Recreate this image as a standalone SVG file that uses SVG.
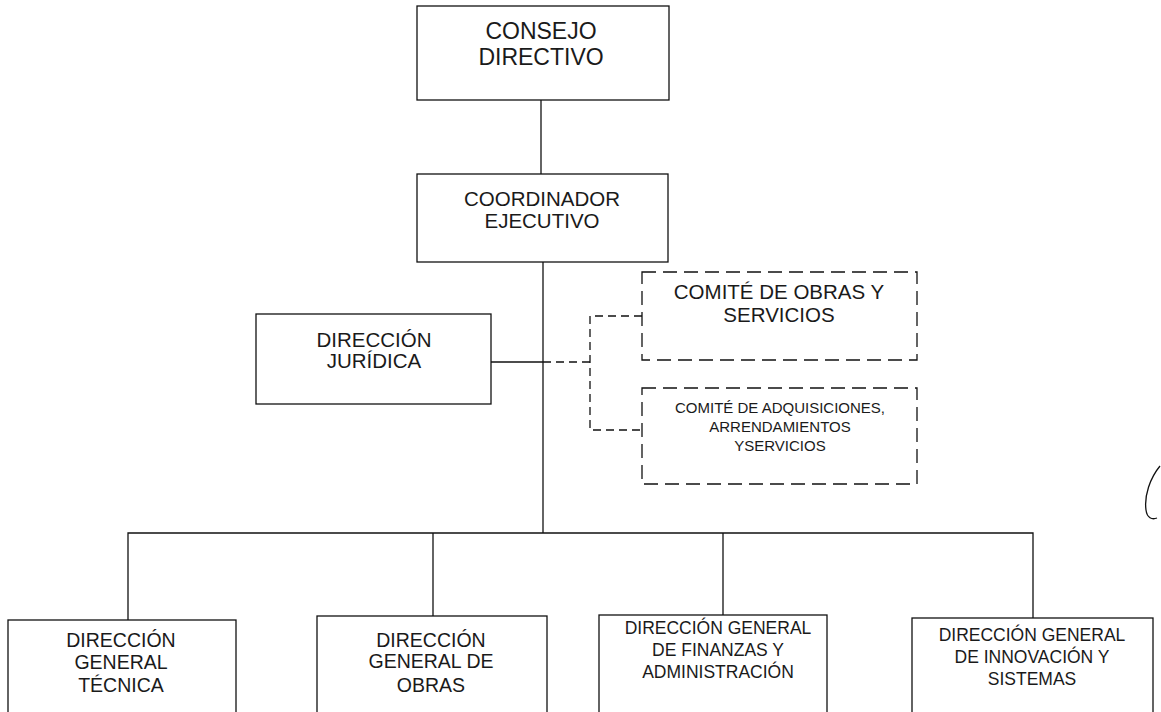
<svg xmlns="http://www.w3.org/2000/svg" width="1161" height="712" viewBox="0 0 1161 712">
<style>
.box{fill:#fff;stroke:#111;stroke-width:1.3}
.dbox{fill:#fff;stroke:#111;stroke-width:1.3;stroke-dasharray:14 7}
.ln{fill:none;stroke:#111;stroke-width:1.3}
.dl{fill:none;stroke:#111;stroke-width:1.3;stroke-dasharray:8 5}
text{font-family:"Liberation Sans",Arial,sans-serif;fill:#1a1a1a;text-anchor:middle}
.t0{font-size:23px}
.t1{font-size:20.5px}
.t2{font-size:19.5px}
.t3{font-size:17.5px}
.t4{font-size:15px}
</style>
<rect width="1161" height="712" fill="#fff"/>
<g id="connectors">
<line class="ln" x1="541" y1="100" x2="541" y2="174"/>
<line class="ln" x1="543" y1="262" x2="543" y2="533"/>
<line class="ln" x1="491" y1="362" x2="543" y2="362"/>
<polyline class="dl" points="543,362 590,362"/>
<polyline class="dl" points="642,316 590,316 590,430 642,430"/>
<polyline class="ln" points="128,620 128,533 1033,533 1033,618"/>
<line class="ln" x1="433" y1="533" x2="433" y2="616"/>
<line class="ln" x1="723" y1="533" x2="723" y2="615"/>
</g>
<g id="consejo">
<rect class="box" x="417" y="6" width="252" height="94"/>
<text class="t0" x="541" y="39">CONSEJO</text>
<text class="t0" x="541" y="65">DIRECTIVO</text>
</g>
<g id="coordinador">
<rect class="box" x="417" y="174" width="251" height="88"/>
<text class="t1" x="542" y="206">COORDINADOR</text>
<text class="t1" x="542" y="228">EJECUTIVO</text>
</g>
<g id="juridica">
<rect class="box" x="256" y="314" width="235" height="90"/>
<text class="t1" x="374" y="347">DIRECCIÓN</text>
<text class="t1" x="374" y="368">JURÍDICA</text>
</g>
<g id="comite-obras">
<rect class="dbox" x="642" y="272" width="275" height="88"/>
<text class="t1" x="779" y="299">COMITÉ DE OBRAS Y</text>
<text class="t1" x="779" y="322">SERVICIOS</text>
</g>
<g id="comite-adq">
<rect class="dbox" x="642" y="388" width="275" height="96"/>
<text class="t4" x="780" y="413">COMITÉ DE ADQUISICIONES,</text>
<text class="t4" x="780" y="432">ARRENDAMIENTOS</text>
<text class="t4" x="780" y="451">YSERVICIOS</text>
</g>
<g id="dg-tecnica">
<rect class="box" x="8" y="620" width="228" height="110"/>
<text class="t2" x="121" y="647">DIRECCIÓN</text>
<text class="t2" x="121" y="669">GENERAL</text>
<text class="t2" x="121" y="692">TÉCNICA</text>
</g>
<g id="dg-obras">
<rect class="box" x="317" y="616" width="230" height="110"/>
<text class="t2" x="431" y="647">DIRECCIÓN</text>
<text class="t2" x="431" y="668">GENERAL DE</text>
<text class="t2" x="431" y="692">OBRAS</text>
</g>
<g id="dg-finanzas">
<rect class="box" x="599" y="615" width="228" height="110"/>
<text class="t3" x="718" y="634">DIRECCIÓN GENERAL</text>
<text class="t3" x="718" y="656">DE FINANZAS Y</text>
<text class="t3" x="718" y="678">ADMINISTRACIÓN</text>
</g>
<g id="dg-innovacion">
<rect class="box" x="912" y="618" width="241" height="110"/>
<text class="t3" x="1032" y="641">DIRECCIÓN GENERAL</text>
<text class="t3" x="1032" y="663">DE INNOVACIÓN Y</text>
<text class="t3" x="1032" y="685">SISTEMAS</text>
</g>
<path class="ln" d="M1160,466 C1150,478 1144,496 1146,510 C1147,518 1152,520 1157,518" stroke-width="1.5"/>
</svg>
